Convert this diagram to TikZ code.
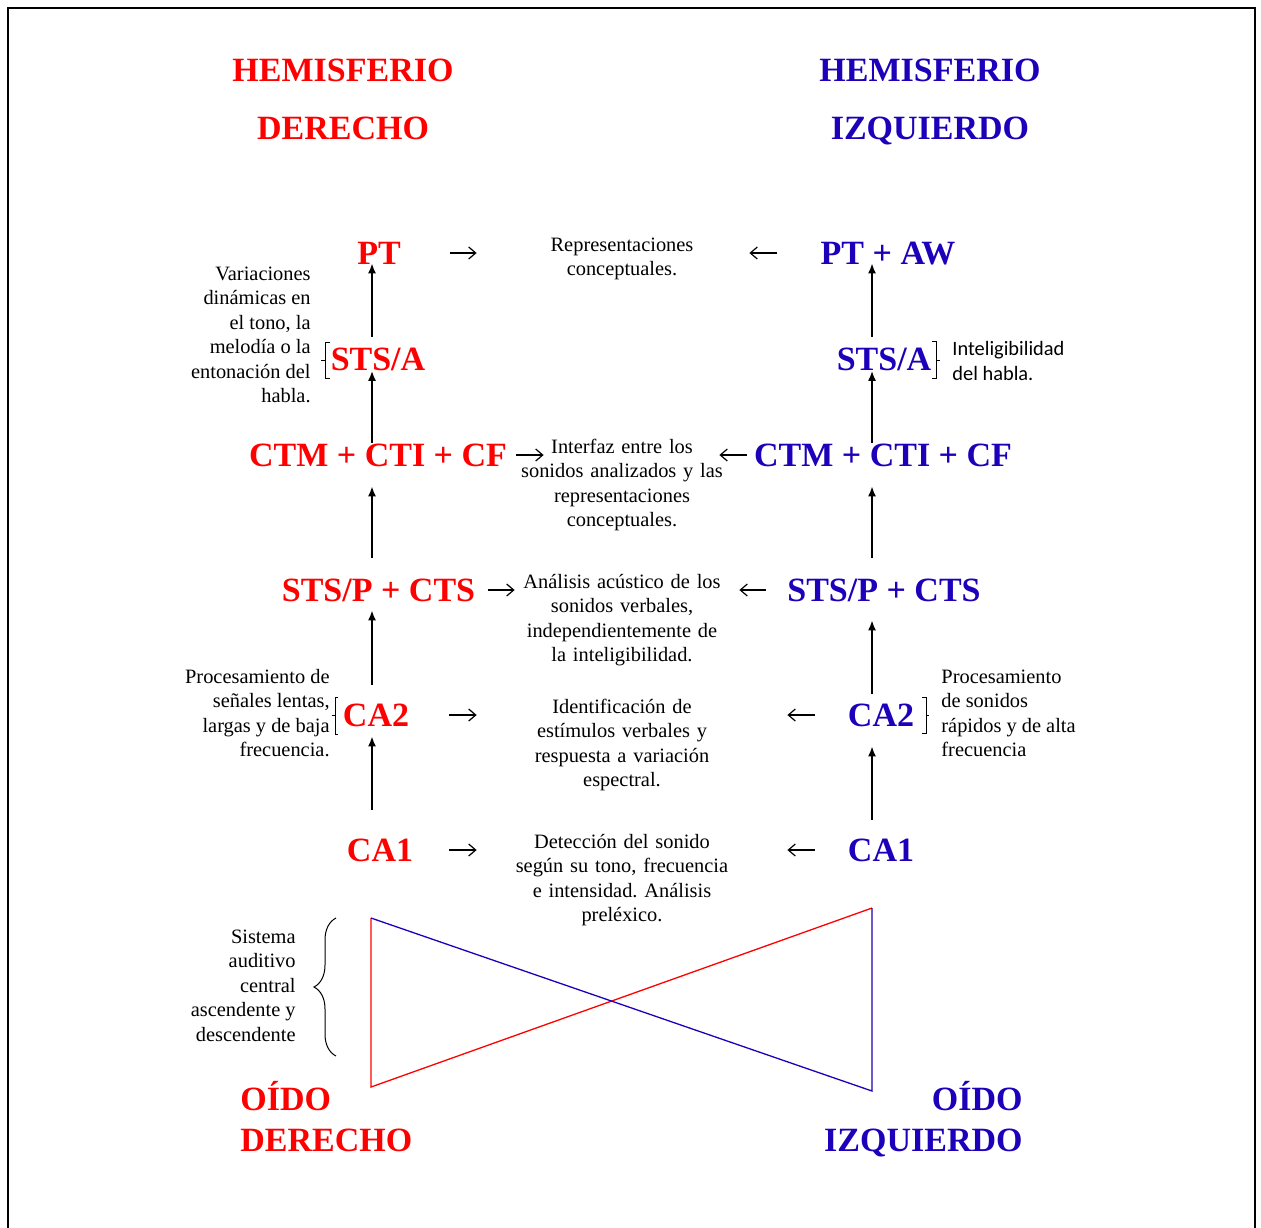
\documentclass[tikz,border=0pt]{standalone}
\usepackage{fontspec}
\setmainfont{Liberation Serif}
\newfontfamily\calibrifont{Carlito}
\usepackage{xcolor}
\usetikzlibrary{arrows.meta,decorations.pathreplacing}
\definecolor{hemired}{RGB}{255,0,0}
\definecolor{hemiblue}{RGB}{28,0,186}
\frenchspacing

\begin{document}
\begin{tikzpicture}[x=0.5pt,y=-0.5pt,
  lbl/.style={inner sep=0pt,text height=11.5pt,text depth=0pt,font=\fontsize{17}{20.5}\selectfont\bfseries},
  ttl/.style={inner sep=0pt,align=center,anchor=base,font=\fontsize{17}{29}\selectfont\bfseries},
  desc/.style={inner sep=0pt,text width=112pt,align=center,anchor=base,font=\fontsize{10.2}{12.25}\selectfont},
  note/.style={inner sep=0pt,font=\fontsize{10.2}{12.25}\selectfont},
  up/.style={-{Latex[length=5pt,width=4pt]},line width=0.8pt},
  side/.style={-{Straight Barb[length=3.5pt,width=6pt]},line width=0.6pt},
  brk/.style={line width=0.5pt}]
        \useasboundingbox (0,0) rectangle (1261,1227);
        % frame
        \draw[line width=1pt] (8,1240) -- (8,8) -- (1255,8) -- (1255,1240);
        % titles
        \node[ttl,text=hemired] (hemiD) at (343,139.5) {HEMISFERIO\\DERECHO};
        \node[ttl,text=hemiblue] (hemiI) at (930,139.5) {HEMISFERIO\\IZQUIERDO};
        % left column
        \coordinate (colL) at (372,0);
        \node[lbl,text=hemired] (ptL) at (379,253) {PT};
        \node[lbl,text=hemired] (stsaL) at (378,359) {STS/A};
        \node[lbl,text=hemired] (ctmL) at (378,455) {CTM + CTI + CF};
        \node[lbl,text=hemired] (stspL) at (378.5,590) {STS/P + CTS};
        \node[lbl,text=hemired] (ca2L) at (376,715) {CA2};
        \node[lbl,text=hemired] (ca1L) at (380,850) {CA1};
        % right column
        \coordinate (colR) at (872,0);
        \node[lbl,text=hemiblue] (ptawR) at (888,253) {PT + AW};
        \node[lbl,text=hemiblue] (stsaR) at (884,359) {STS/A};
        \node[lbl,text=hemiblue] (ctmR) at (883,455) {CTM + CTI + CF};
        \node[lbl,text=hemiblue] (stspR) at (884,590) {STS/P + CTS};
        \node[lbl,text=hemiblue] (ca2R) at (881,715) {CA2};
        \node[lbl,text=hemiblue] (ca1R) at (881,850) {CA1};
        % descriptions
        \node[desc] (reprD) at (622,251) {Representaciones\\conceptuales.};
        \node[desc] (ifazD) at (622,453) {Interfaz entre los\\sonidos analizados y las\\representaciones\\conceptuales.};
        \node[desc] (analD) at (622,588) {Análisis acústico de los\\sonidos verbales,\\independientemente de\\la inteligibilidad.};
        \node[desc] (idenD) at (622,713) {Identificación de\\estímulos verbales y\\respuesta a variación\\espectral.};
        \node[desc] (detD) at (622,848) {Detección del sonido\\según su tono, frecuencia\\e intensidad. Análisis\\preléxico.};
        % notes
        \node[note,align=right,anchor=base east] (variaN) at (311,402.5) {Variaciones\\dinámicas en\\el tono, la\\melodía o la\\entonación del\\habla.};
        \node[note,align=right,anchor=base east] (lentN) at (330,756.5) {Procesamiento de\\señales lentas,\\largas y de baja\\frecuencia.};
        \node[note,align=right,anchor=base east] (sistN) at (296,1041) {Sistema\\auditivo\\central\\ascendente y\\descendente};
        \node[note,align=left,anchor=base west,font=\fontsize{10.2}{12.5}\selectfont\calibrifont] (intelN) at (952,380) {Inteligibilidad\\del habla.};
        \node[note,align=left,anchor=base west] (rapN) at (941,756.5) {Procesamiento\\de sonidos\\rápidos y de alta\\frecuencia};
        % ears
        \node[ttl,text=hemired,align=left,anchor=base west,font=\fontsize{17}{20.5}\selectfont\bfseries] (oidoD) at (240,1151.5) {OÍDO\\DERECHO};
        \node[ttl,text=hemiblue,align=right,anchor=base east,font=\fontsize{17}{20.5}\selectfont\bfseries] (oidoI) at (1023,1151.5) {OÍDO\\IZQUIERDO};
        % upward arrows, left
        \draw[up,shorten <=5.25pt,shorten >=-0.75pt] (stsaL.north -| colL) -- (ptL.south -| colL);
        \draw[up] (ctmL.north -| colL) -- (stsaL.south -| colL);
        \draw[up,shorten <=10.25pt,shorten >=9.75pt] (stspL.north -| colL) -- (ctmL.south -| colL);
        \draw[up,shorten <=9.25pt,shorten >=4.25pt] (ca2L.north -| colL) -- (stspL.south -| colL);
        \draw[up,shorten <=14.25pt,shorten >=4.75pt] (ca1L.north -| colL) -- (ca2L.south -| colL);
        % upward arrows, right
        \draw[up,shorten <=5.25pt,shorten >=-0.75pt] (stsaR.north -| colR) -- (ptawR.south -| colR);
        \draw[up] (ctmR.north -| colR) -- (stsaR.south -| colR);
        \draw[up,shorten <=10.25pt,shorten >=9.75pt] (stspR.north -| colR) -- (ctmR.south -| colR);
        \draw[up,shorten <=4.75pt,shorten >=9.25pt] (ca2R.north -| colR) -- (stspR.south -| colR);
        \draw[up,shorten <=9.25pt,shorten >=9.75pt] (ca1R.north -| colR) -- (ca2R.south -| colR);
        % side arrows, left
        \draw[side,shorten <=24.2pt,shorten >=16.5pt] (ptL.east) -- (ptL.east -| reprD.west);
        \draw[side,shorten <=4.5pt,shorten >=-17pt] (ctmL.east) -- (ctmL.east -| ifazD.west);
        \draw[side,shorten <=6pt,shorten >=-2.5pt] (stspL.east) -- (stspL.east -| analD.west);
        \draw[side,shorten <=20pt,shorten >=16.5pt] (ca2L.east) -- (ca2L.east -| idenD.west);
        \draw[side,shorten <=18pt,shorten >=16.5pt] (ca1L.east) -- (ca1L.east -| detD.west);
        % side arrows, right
        \draw[side,shorten <=21.5pt,shorten >=7.5pt] (ptawR.west) -- (ptawR.west -| reprD.east);
        \draw[side,shorten <=3.5pt,shorten >=-7.5pt] (ctmR.west) -- (ctmR.west -| ifazD.east);
        \draw[side,shorten <=10.75pt,shorten >=2.5pt] (stspR.west) -- (stspR.west -| analD.east);
        \draw[side,shorten <=16.5pt,shorten >=26.5pt] (ca2R.west) -- (ca2R.west -| idenD.east);
        \draw[side,shorten <=16.5pt,shorten >=26.5pt] (ca1R.west) -- (ca1R.west -| detD.east);
        % brackets
        \draw[brk] (330,342) -- (325,342) -- (325,378) -- (330,378) (325,360) -- (321,360);
        \draw[brk] (338,697) -- (335,697) -- (335,734) -- (338,734) (335,715) -- (332,715);
        \draw[brk] (932,341) -- (936,341) -- (936,378) -- (932,378) (936,360) -- (940,360);
        \draw[brk] (922,697) -- (926,697) -- (926,733) -- (922,733) (926,715) -- (929,715);
        \draw[brk,decorate,decoration={brace,amplitude=11pt}] (336,1056) -- (336,918);
        % crossed pathways
        \draw[hemired,line width=0.65pt] (371,918) -- (371,1087) -- (872,908);
        \draw[hemiblue,line width=0.65pt] (371,918) -- (872,1091) -- (872,908);
    \end{tikzpicture}
\end{document}
